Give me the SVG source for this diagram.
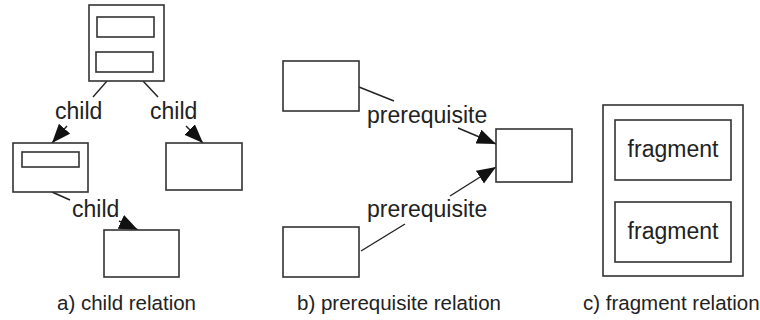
<svg xmlns="http://www.w3.org/2000/svg" width="760" height="320" viewBox="0 0 760 320">
<style>
.box{fill:#fff;stroke:#333;stroke-width:1.6}
.ln{fill:none;stroke:#222;stroke-width:1.4}
.lbl{font-family:"Liberation Sans",Arial,sans-serif;font-size:23px;fill:#222}
.cap{font-family:"Liberation Sans",Arial,sans-serif;font-size:20.5px;fill:#222}
</style>
<defs>
<marker id="ah" markerUnits="userSpaceOnUse" markerWidth="20" markerHeight="16" refX="19" refY="7.5" orient="auto">
<path d="M0,0 L19,7.5 L0,15 z" fill="#111"/>
</marker>
</defs>
<rect width="760" height="320" fill="#fff"/>
<g id="connectors">
<line class="ln" x1="107" y1="81" x2="93" y2="97"/>
<line class="ln" x1="67" y1="126" x2="52" y2="143" marker-end="url(#ah)"/>
<line class="ln" x1="143" y1="81" x2="158" y2="97"/>
<line class="ln" x1="186" y1="126" x2="203" y2="143" marker-end="url(#ah)"/>
<line class="ln" x1="52" y1="192" x2="70" y2="200"/>
<line class="ln" x1="119" y1="221" x2="138" y2="230" marker-end="url(#ah)"/>
<line class="ln" x1="359" y1="87" x2="394" y2="101"/>
<line class="ln" x1="458" y1="128" x2="496" y2="144" marker-end="url(#ah)"/>
<line class="ln" x1="361" y1="251" x2="405" y2="224"/>
<line class="ln" x1="450" y1="196" x2="496" y2="167" marker-end="url(#ah)"/>
<text class="lbl" x="55" y="119">child</text>
<text class="lbl" x="150" y="119">child</text>
<text class="lbl" x="72" y="217">child</text>
<text class="lbl" x="367" y="123">prerequisite</text>
<text class="lbl" x="367" y="217">prerequisite</text>
</g>
<g id="a-top">
<rect class="box" x="89" y="5" width="75" height="76"/>
<rect class="box" x="97" y="17" width="57" height="20"/>
<rect class="box" x="96" y="52" width="57" height="20"/>
</g>
<g id="a-left">
<rect class="box" x="13" y="143" width="75" height="49"/>
<rect class="box" x="22" y="152" width="57" height="15"/>
</g>
<g id="a-right"><rect class="box" x="166" y="143" width="76" height="47"/></g>
<g id="a-bottom"><rect class="box" x="104" y="230" width="75" height="47"/></g>
<g id="b-top"><rect class="box" x="283" y="61" width="76" height="50"/></g>
<g id="b-right"><rect class="box" x="496" y="129" width="76" height="53"/></g>
<g id="b-bottom"><rect class="box" x="283" y="227" width="76" height="50"/></g>
<g id="c-outer"><rect class="box" x="603" y="105" width="140" height="171"/></g>
<g id="c-frag1">
<rect class="box" x="615" y="120" width="116" height="60"/>
<text class="lbl" x="673" y="157" text-anchor="middle">fragment</text>
</g>
<g id="c-frag2">
<rect class="box" x="615" y="202" width="116" height="60"/>
<text class="lbl" x="673" y="239" text-anchor="middle">fragment</text>
</g>
<g id="captions">
<text class="cap" x="57" y="310">a) child relation</text>
<text class="cap" x="297" y="310">b) prerequisite relation</text>
<text class="cap" x="583" y="310">c) fragment relation</text>
</g>
</svg>
